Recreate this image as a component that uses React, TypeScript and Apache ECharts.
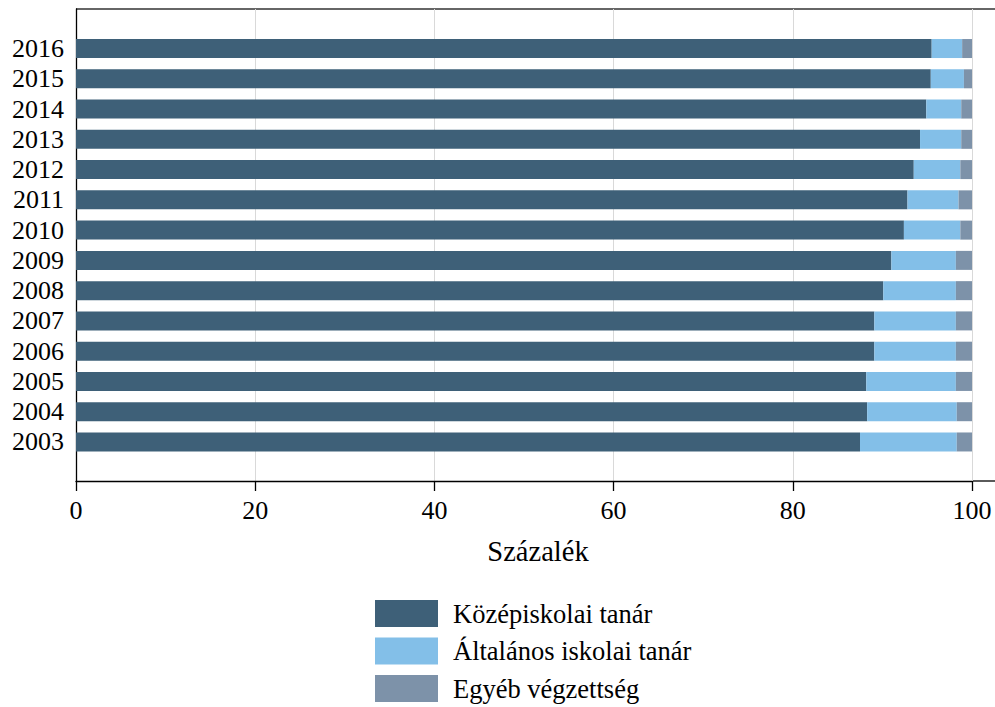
import React, { useEffect, useRef } from "react";
import * as echarts from "echarts";

const years = ["2003", "2004", "2005", "2006", "2007", "2008", "2009", "2010", "2011", "2012", "2013", "2014", "2015", "2016"];
const kozepiskolai = [87.5, 88.3, 88.2, 89.1, 89.1, 90.1, 91.0, 92.4, 92.8, 93.5, 94.2, 94.9, 95.4, 95.5];
const altalanos = [10.8, 10.0, 10.0, 9.1, 9.1, 8.1, 7.2, 6.3, 5.7, 5.2, 4.6, 3.9, 3.7, 3.4];
const egyeb = [1.7, 1.7, 1.8, 1.8, 1.8, 1.8, 1.8, 1.3, 1.5, 1.3, 1.2, 1.2, 0.9, 1.1];
const xTicks = [0, 20, 40, 60, 80, 100];
const seriesNames = ["Középiskolai tanár", "Általános iskolai tanár", "Egyéb végzettség"];
const axisName = "Százalék";

const FONT = "'Liberation Serif', 'Times New Roman', serif";
const colors = ["#3e6078", "#83bfe8", "#7d92a9"];

export default function App() {
  const ref = useRef<HTMLDivElement>(null);
  useEffect(() => {
    document.body.style.margin = "0";
    if (!ref.current) return;
    const chart = echarts.init(ref.current, null, { renderer: "svg" });
    const dataSets = [kozepiskolai, altalanos, egyeb];
    chart.setOption({
      animation: false,
      textStyle: { fontFamily: FONT },
      grid: [
        { left: 76, right: 23, top: 9, bottom: 226 },
        { left: 76, right: 23, top: 33.4, height: 423.7 },
      ],
      xAxis: [
        {
          gridIndex: 0,
          type: "value",
          min: xTicks[0],
          max: xTicks[xTicks.length - 1],
          interval: xTicks[1] - xTicks[0],
          axisLine: { show: true, lineStyle: { color: "#000", width: 1.3 } },
          axisTick: { show: true, length: 10, lineStyle: { color: "#000", width: 1.3 } },
          axisLabel: { color: "#000", fontSize: 26, fontFamily: FONT, margin: 16 },
          splitLine: { show: true, lineStyle: { color: "#d9d9d9", width: 1 } },
          name: axisName,
          nameLocation: "middle",
          nameGap: 56,
          nameTextStyle: { color: "#000", fontSize: 28.5, fontFamily: FONT, padding: [0, 0, 0, 28] },
        },
        {
          gridIndex: 1,
          type: "value",
          min: 0,
          max: 100,
          show: false,
        },
      ],
      yAxis: [
        {
          gridIndex: 0,
          type: "value",
          min: 0,
          max: 1,
          axisLine: { show: true, onZero: false, lineStyle: { color: "#000", width: 1.3 } },
          axisTick: { show: false },
          axisLabel: { show: false },
          splitLine: { show: false },
        },
        {
          gridIndex: 1,
          type: "category",
          data: years,
          axisLine: { show: false },
          axisTick: { show: false },
          axisLabel: { color: "#000", fontSize: 26, fontFamily: FONT, margin: 12, interval: 0 },
          splitLine: { show: false },
        },
      ],
      legend: {
        orient: "vertical",
        left: 375,
        top: 600,
        height: 200,
        padding: 0,
        itemWidth: 63,
        itemHeight: 27,
        itemGap: 10.5,
        icon: "rect",
        data: seriesNames,
        textStyle: { color: "#000", fontSize: 26.5, fontFamily: FONT, lineHeight: 27, padding: [0, 0, 0, 10] },
      },
      graphic: [
        { type: "line", shape: { x1: 76, y1: 9, x2: 995, y2: 9 }, style: { stroke: "#333", lineWidth: 1.3 } },
        { type: "line", shape: { x1: 972, y1: 481, x2: 995, y2: 481 }, style: { stroke: "#000", lineWidth: 1.3 } },
      ],
      series: seriesNames.map((name, i) => ({
        name,
        type: "bar",
        stack: "total",
        xAxisIndex: 1,
        yAxisIndex: 1,
        barWidth: 19,
        data: dataSets[i],
        itemStyle: { color: colors[i] },
      })),
    });
    return () => chart.dispose();
  }, []);
  return <div ref={ref} style={{ width: 995, height: 707 }} />;
}
